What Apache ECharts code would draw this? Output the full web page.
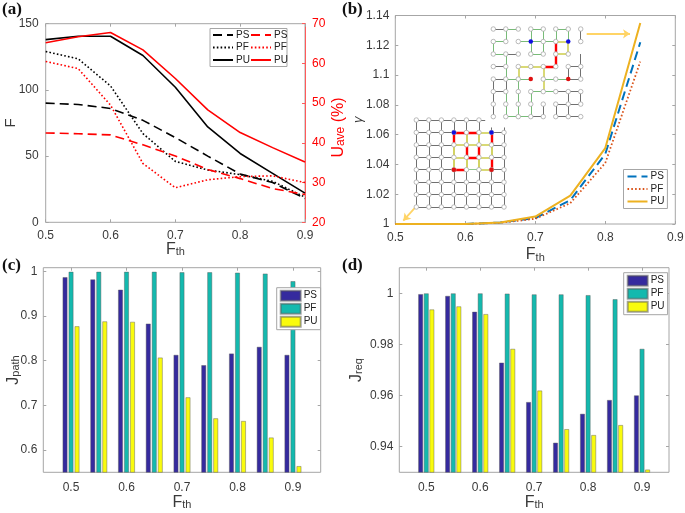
<!DOCTYPE html>
<html><head><meta charset="utf-8">
<style>html,body{margin:0;padding:0;background:#fff}#c{width:685px;height:513px}</style>
<script src="https://cdn.jsdelivr.net/npm/echarts@6/dist/echarts.min.js"></script>
</head><body><div id="c"></div>
<script>
const fth = [0.5,0.55,0.6,0.65,0.7,0.75,0.8,0.85,0.9];
const fthB = [0.5,0.55,0.6,0.65,0.7,0.75,0.8,0.85];
const xTicks = [0.5,0.6,0.7,0.8,0.9];

const fPS = [90,89,86,77,64,50,36.5,30,18];
const fPF = [129,123.5,103,67,46,39.5,36,31,19];
const fPU = [138,140.5,140.5,126,102,72,52,37,22];
const uPS = [42.5,42.3,42,39.5,36.7,33.3,31,28.5,27];
const uPF = [60.5,58.7,49.5,34.8,28.7,30.7,31.5,31.7,30];
const uPU = [65.2,66.7,67.8,63.4,56.2,48.3,42.6,38.8,35.2];

const gPS = [1,1,1,1.001,1.004,1.016,1.047,1.122];
const gPF = [1,1,1,1.0008,1.0035,1.014,1.041,1.109];
const gPU = [1,1,1,1.001,1.005,1.019,1.051,1.135];

const jpPS = [.987,.982,.959,.883,.813,.790,.816,.831,.813];
const jpPF = [.999,.999,.999,.999,.998,.998,.997,.995,.978];
const jpPU = [.877,.888,.887,.807,.718,.671,.665,.628,.564];

const jrPS = [.9997,.999,.9928,.9729,.9575,.9416,.9529,.9583,.9601];
const jrPF = [1,1,1,.9999,.9996,.9996,.9993,.9977,.9783];
const jrPU = [.9937,.9949,.9919,.9783,.962,.9469,.9446,.9485,.9311];

const yTicksC = [0.6,0.7,0.8,0.9,1];
const yTicksD = [0.94,0.96,0.98,1];

// inset lattices: [col,row,col,row]
const inA_dark = [[0,0,1,0],[1,2,2,2],[0,3,1,3],[0,4,1,4],[6,3,7,3],[6,4,7,4],[0,5,1,5],[5,5,6,5],[6,5,7,5],[5,6,6,6],[6,6,7,6],[3,7,4,7],[5,7,6,7],[6,7,7,7],
  [0,4,0,5],[0,5,0,6],[0,6,0,7],[1,4,1,5],[4,6,4,7],[5,6,5,7],[6,3,6,4],[6,5,6,6],[6,6,6,7],[7,0,7,1],[7,2,7,3],[7,3,7,4],[7,5,7,6]];
const inA_green = [[1,0,2,0],[3,0,4,0],[5,0,6,0],[0,1,1,1],[2,1,3,1],[3,1,4,1],[4,1,5,1],[0,2,1,2],[3,2,4,2],[1,4,2,4],[2,4,3,4],[4,4,5,4],[5,4,6,4],[3,5,4,5],[4,5,5,5],[1,7,2,7],[2,7,3,7],
  [0,1,0,2],[1,0,1,1],[1,2,1,3],[1,3,1,4],[1,5,1,6],[1,6,1,7],[2,4,2,5],[2,5,2,6],[2,6,2,7],[3,0,3,1],[3,1,3,2],[3,5,3,6],[3,6,3,7],[4,0,4,1],[4,1,4,2],[5,0,5,1],[6,0,6,1]];
const inA_yellow = [[5,1,6,1],[5,2,6,2],[2,3,3,3],[3,3,4,3],[2,3,2,4],[4,3,4,4],[4,4,4,5],[6,1,6,2]];
const inA_red = [[4,3,5,3],[5,1,5,2],[5,2,5,3]];
const inA_nodes = [[0,0],[1,0],[2,0],[3,0],[4,0],[5,0],[6,0],[7,0],[0,1],[1,1],[2,1],[4,1],[5,1],[7,1],[0,2],[1,2],[2,2],[3,2],[4,2],[5,2],[6,2],[0,3],[1,3],[2,3],[3,3],[4,3],[5,3],[6,3],[7,3],[0,4],[1,4],[2,4],[4,4],[5,4],[7,4],[0,5],[1,5],[2,5],[3,5],[4,5],[5,5],[6,5],[7,5],[0,6],[1,6],[2,6],[3,6],[4,6],[5,6],[6,6],[7,6],[0,7],[1,7],[2,7],[3,7],[4,7],[5,7],[6,7],[7,7]];
const inA_blue = [[3,1],[6,1]];
const inA_redN = [[3,4],[6,4]];

const inB_red = [[3,1,4,1],[4,1,5,1],[3,1,3,2],[6,1,6,2],[4,2,4,3],[5,2,5,3],[6,3,6,4],[4,3,5,3],[3,4,4,4]];
const inB_yellow = [[5,1,6,1],[3,2,3,3],[3,3,3,4],[4,1,4,2],[4,3,4,4],[5,1,5,2],[5,3,5,4],[6,2,6,3],[3,2,4,2],[4,2,5,2],[5,2,6,2],[3,3,4,3],[5,3,6,3],[5,4,6,4]];
const inB_green = [[4,4,5,4]];
const inB_stubs = [[5,0,5.5,0],[7,1,7,0.6],[6,1,6,0.6]];
const inB_blue = [[3,1],[6,1]];
const inB_redN = [[3,4],[6,4]];

const arrows = [[0.7734,1.1277,0.8353,1.1277],[0.5296,1.0116,0.5114,1.0022]];

const font = 'Liberation Sans';
const TXT = '#3a3a3a', GREY = '#a6a6a6';
const C1 = '#352a9e', C2 = '#14b9ae', C3 = '#f9fb0e';

const grid=[], xAxis=[], yAxis=[], series=[], legend=[];
function addGrid(l,t,w,h,hidden){grid.push({left:l,top:t,width:w,height:h,show:!hidden,outerBoundsMode:'none',borderColor:GREY,borderWidth:1,backgroundColor:'transparent'});return grid.length-1;}
const fthName = gap=>({name:'{f|F}{s|th}',nameLocation:'middle',nameMoveOverlap:false,nameGap:gap,nameTextStyle:{rich:{f:{fontSize:16,fontFamily:font,color:TXT,verticalAlign:'bottom',lineHeight:18},s:{fontSize:11,fontFamily:font,color:TXT,verticalAlign:'bottom',lineHeight:10,padding:[10,0,0,0]}}}});
function valX(g,gap,mn,mx,labelMargin){
  const tick={inside:true,length:3,customValues:xTicks,lineStyle:{color:GREY}};
  xAxis.push({gridIndex:g,type:'value',min:mn,max:mx,position:'bottom',...fthName(gap),
    axisLine:{show:false},splitLine:{show:false},axisTick:tick,
    axisLabel:{color:TXT,fontFamily:font,fontSize:12,margin:labelMargin,customValues:xTicks,formatter:v=>v.toFixed(1)}});
  const i=xAxis.length-1;
  xAxis.push({gridIndex:g,type:'value',min:mn,max:mx,position:'top',
    axisLine:{show:false},splitLine:{show:false},axisTick:tick,axisLabel:{show:false}});
  return i;
}
function mirrorY(g,base){
  yAxis.push({gridIndex:g,type:'value',min:base.min,max:base.max,interval:base.interval,position:'right',
    axisLine:{show:false},splitLine:{show:false},
    axisTick:{inside:true,length:3,customValues:base.axisTick.customValues,lineStyle:{color:GREY}},axisLabel:{show:false}});
}
function leftY(g,o){
  const ax=Object.assign({gridIndex:g,type:'value',position:'left',nameLocation:'middle',nameMoveOverlap:false,
    axisLine:{show:false},splitLine:{show:false},
    axisTick:{inside:true,length:3,customValues:o.ticks,lineStyle:{color:GREY}},
    axisLabel:{color:TXT,fontFamily:font,fontSize:12,margin:6,customValues:o.ticks}},o);
  delete ax.ticks; yAxis.push(ax); mirrorY(g,ax); return yAxis.length-2;
}
const zip=(xs,ys)=>xs.map((x,i)=>[x,ys[i]]);
function line(name,xi,yi,xs,ys,color,kind,w){
  const type = kind==='dash'?[9,5]:kind==='dot'?[1.6,2.2]:'solid';
  series.push({type:'line',name,xAxisIndex:xi,yAxisIndex:yi,data:zip(xs,ys),showSymbol:false,symbol:'none',
    lineStyle:{color,width:w||1.6,type},itemStyle:{color},clip:true,silent:true});
}
function bars(name,xi,yi,ys,color,gap){
  series.push({type:'bar',name,xAxisIndex:xi,yAxisIndex:yi,data:zip(fth,ys),barWidth:5,barGap:gap,
    itemStyle:{color,borderColor:'rgba(90,90,90,0.55)',borderWidth:0.8},silent:true});
}
function leg(names,left,top,colorBox,extra,hideSym){
  legend.push(Object.assign({data:names.map(n=>hideSym?({name:n,itemStyle:{opacity:0}}):({name:n})),orient:'vertical',left,top,itemWidth:20,itemHeight:12,itemGap:2.5,
    padding:[2,3,2,3],selectedMode:false,formatter:n=>n.trim(),
    backgroundColor:colorBox?'#fff':'transparent',borderColor:colorBox?GREY:'transparent',borderWidth:colorBox?1:0,
    textStyle:{fontFamily:font,fontSize:10,color:'#222',padding:[0,0,0,-2]}},extra||{}));
}

// (a)
const gA=addGrid(45.7,23.7,259.3,198.6);
const xA=valX(gA,17,0.5,0.9,7);
yAxis.push({gridIndex:gA,type:'value',min:0,max:150,interval:50,position:'left',name:'F',nameLocation:'middle',nameMoveOverlap:false,nameGap:27,
  nameTextStyle:{fontFamily:font,fontSize:15,color:TXT},axisLine:{show:false},splitLine:{show:false},
  axisTick:{inside:true,length:3,lineStyle:{color:GREY}},axisLabel:{color:TXT,fontFamily:font,fontSize:12,margin:7}});
yAxis.push({gridIndex:gA,type:'value',min:20,max:70,interval:10,position:'right',
  name:'{u|U}{s|ave}{u| (%)}',nameLocation:'middle',nameMoveOverlap:false,nameGap:24,nameRotate:90,
  nameTextStyle:{padding:[0,9,0,0],rich:{u:{fontSize:16,fontFamily:font,color:'#f00',lineHeight:18,verticalAlign:'bottom'},s:{fontSize:12,fontFamily:font,color:'#f00',lineHeight:10,verticalAlign:'bottom',padding:[9,0,0,0]}}},
  axisLine:{show:true,lineStyle:{color:'#ff5a5a',width:1}},splitLine:{show:false},
  axisTick:{inside:true,length:3,lineStyle:{color:'#ff5a5a'}},axisLabel:{color:'#f00',fontFamily:font,fontSize:12,margin:7}});
line('PS',xA,0,fth,fPS,'#000','dash');
line('PF',xA,0,fth,fPF,'#000','dot');
line('PU',xA,0,fth,fPU,'#000','solid');
line('PS ',xA,1,fth,uPS,'#f00','dash');
line('PF ',xA,1,fth,uPF,'#f00','dot');
line('PU ',xA,1,fth,uPU,'#f00','solid');
leg(['PS','PF','PU'],209,28,false,null,true);
leg(['PS ','PF ','PU '],247,28,false,null,true);

// (b)
const gB=addGrid(395.3,15.5,280,208.5);
const xB=valX(gB,21,0.5,0.9,8);
const yB=leftY(gB,{min:1,max:1.14,interval:0.02,ticks:[1,1.02,1.04,1.06,1.08,1.1,1.12,1.14],name:'\u03b3',nameGap:30,
  nameTextStyle:{fontFamily:font,fontSize:13,fontStyle:'italic',color:TXT}});
line('PS  ',xB,yB,fthB,gPS,'#0072BD','dash',2);
line('PF  ',xB,yB,fthB,gPF,'#D95319','dot',1.8);
line('PU  ',xB,yB,fthB,gPU,'#EDB120','solid',2);
leg(['PS  ','PF  ','PU  '],623.5,169.5,true,null,true);
series.push({type:'lines',coordinateSystem:'cartesian2d',xAxisIndex:xB,yAxisIndex:yB,silent:true,
  symbol:['none','arrow'],symbolSize:[0,7],z:3,
  lineStyle:{color:'#ffd466',width:1.8,opacity:1,curveness:0},
  data:arrows.map(a=>({coords:[[a[0],a[1]],[a[2],a[3]]]}))});

// (c)
const gC=addGrid(43.3,267.7,277.4,204.6);
const xC=valX(gC,20,0.45,0.95,9);
const yC=leftY(gC,{min:0.55,max:1.008,ticks:yTicksC,name:'{f|J}{s|path}',nameGap:22,
  nameTextStyle:{rich:{f:{fontSize:16,fontFamily:font,color:TXT,lineHeight:18,verticalAlign:'bottom'},s:{fontSize:11,fontFamily:font,color:TXT,lineHeight:10,verticalAlign:'bottom',padding:[9,0,0,0]}}}});
bars('PS   ',xC,yC,jpPS,C1,'20%');bars('PF   ',xC,yC,jpPF,C2,'20%');bars('PU   ',xC,yC,jpPU,C3,'20%');
leg(['PS   ','PF   ','PU   '],276.7,287.7,true,{icon:'rect',itemHeight:10,itemGap:1});

// (d)
const gD=addGrid(399.3,267.7,269.7,204.6);
const xD=valX(gD,20,0.45,0.95,9);
const yD=leftY(gD,{min:0.93,max:1.01,ticks:yTicksD,name:'{f|J}{s|req}',nameGap:35,
  nameTextStyle:{rich:{f:{fontSize:16,fontFamily:font,color:TXT,lineHeight:18,verticalAlign:'bottom'},s:{fontSize:11,fontFamily:font,color:TXT,lineHeight:10,verticalAlign:'bottom',padding:[9,0,0,0]}}}});
bars('PS    ',xD,yD,jrPS,C1,'12%');bars('PF    ',xD,yD,jrPF,C2,'12%');bars('PU    ',xD,yD,jrPU,C3,'12%');
leg(['PS    ','PF    ','PU    '],623.7,272.7,true,{icon:'rect',itemHeight:10,itemGap:1});

// insets
function hiddenLattice(col0,row0,sx,sy){
  const g=addGrid(col0-sx,row0-sy,9*sx,9*sy,true);
  xAxis.push({gridIndex:g,type:'value',min:-1,max:8,show:false});
  yAxis.push({gridIndex:g,type:'value',min:-1,max:8,inverse:true,show:false});
  return [xAxis.length-1,yAxis.length-1];
}
function edges(ax,list,color,width){
  series.push({type:'lines',coordinateSystem:'cartesian2d',xAxisIndex:ax[0],yAxisIndex:ax[1],silent:true,z:3,
    lineStyle:{color,width,opacity:1,curveness:0},data:list.map(e=>({coords:[[e[0],e[1]],[e[2],e[3]]]}))});
}
function nodes(ax,list,color,border,size){
  series.push({type:'scatter',xAxisIndex:ax[0],yAxisIndex:ax[1],data:list,symbolSize:size,silent:true,z:4,
    itemStyle:{color,borderColor:border,borderWidth:border==='none'?0:0.8,opacity:1}});
}
const axA=hiddenLattice(493.3,29,12.49,12.52);
edges(axA,inA_dark,'#707070',1);
edges(axA,inA_green,'#78bb78',1);
edges(axA,inA_yellow,'#cccc48',1.5);
edges(axA,inA_red,'#ff0000',2.4);
nodes(axA,inA_nodes,'#fff','#a8a8a8',4.5);
nodes(axA,inA_blue,'#1010e0','none',4.5);
nodes(axA,inA_redN,'#e01010','none',4.5);

const axB=hiddenLattice(416.3,120,12.53,12.43);
const inB_dark=[], inB_nodes=[];
const colored=new Set([...inB_red,...inB_yellow,...inB_green].map(e=>e.join()));
for(let r=0;r<8;r++)for(let c=0;c<8;c++){
  if(r===0&&c>5)continue;
  inB_nodes.push([c,r]);
  if(c<7&&!(r===0&&c>=5)&&!colored.has([c,r,c+1,r].join()))inB_dark.push([c,r,c+1,r]);
  if(r<7&&!colored.has([c,r,c,r+1].join()))inB_dark.push([c,r,c,r+1]);
}
edges(axB,inB_dark.concat(inB_stubs),'#707070',1);
edges(axB,inB_green,'#8fc98f',1);
edges(axB,inB_yellow,'#cccc48',1.7);
edges(axB,inB_red,'#ff0000',2.4);
nodes(axB,inB_nodes,'#fff','#a8a8a8',4.5);
nodes(axB,inB_blue,'#1010e0','none',4.5);
nodes(axB,inB_redN,'#e01010','none',4.5);

const panelLabel=(text,left,top)=>({text,left,top,padding:0,textStyle:{fontFamily:'Liberation Serif',fontWeight:'bold',fontSize:17,color:'#111'}});

const chart=echarts.init(document.getElementById('c'),null,{renderer:'canvas'});
chart.setOption({
  animation:false,backgroundColor:'#fff',
  title:[panelLabel('(a)',2,1),panelLabel('(b)',342,1),panelLabel('(c)',2,257),panelLabel('(d)',342,257)],
  grid,xAxis,yAxis,series,legend,
  graphic:[{type:'rect',left:209.5,top:28,z:1,shape:{width:77,height:38},style:{fill:'#fff',stroke:GREY,lineWidth:1}}]
});
</script></body></html>
